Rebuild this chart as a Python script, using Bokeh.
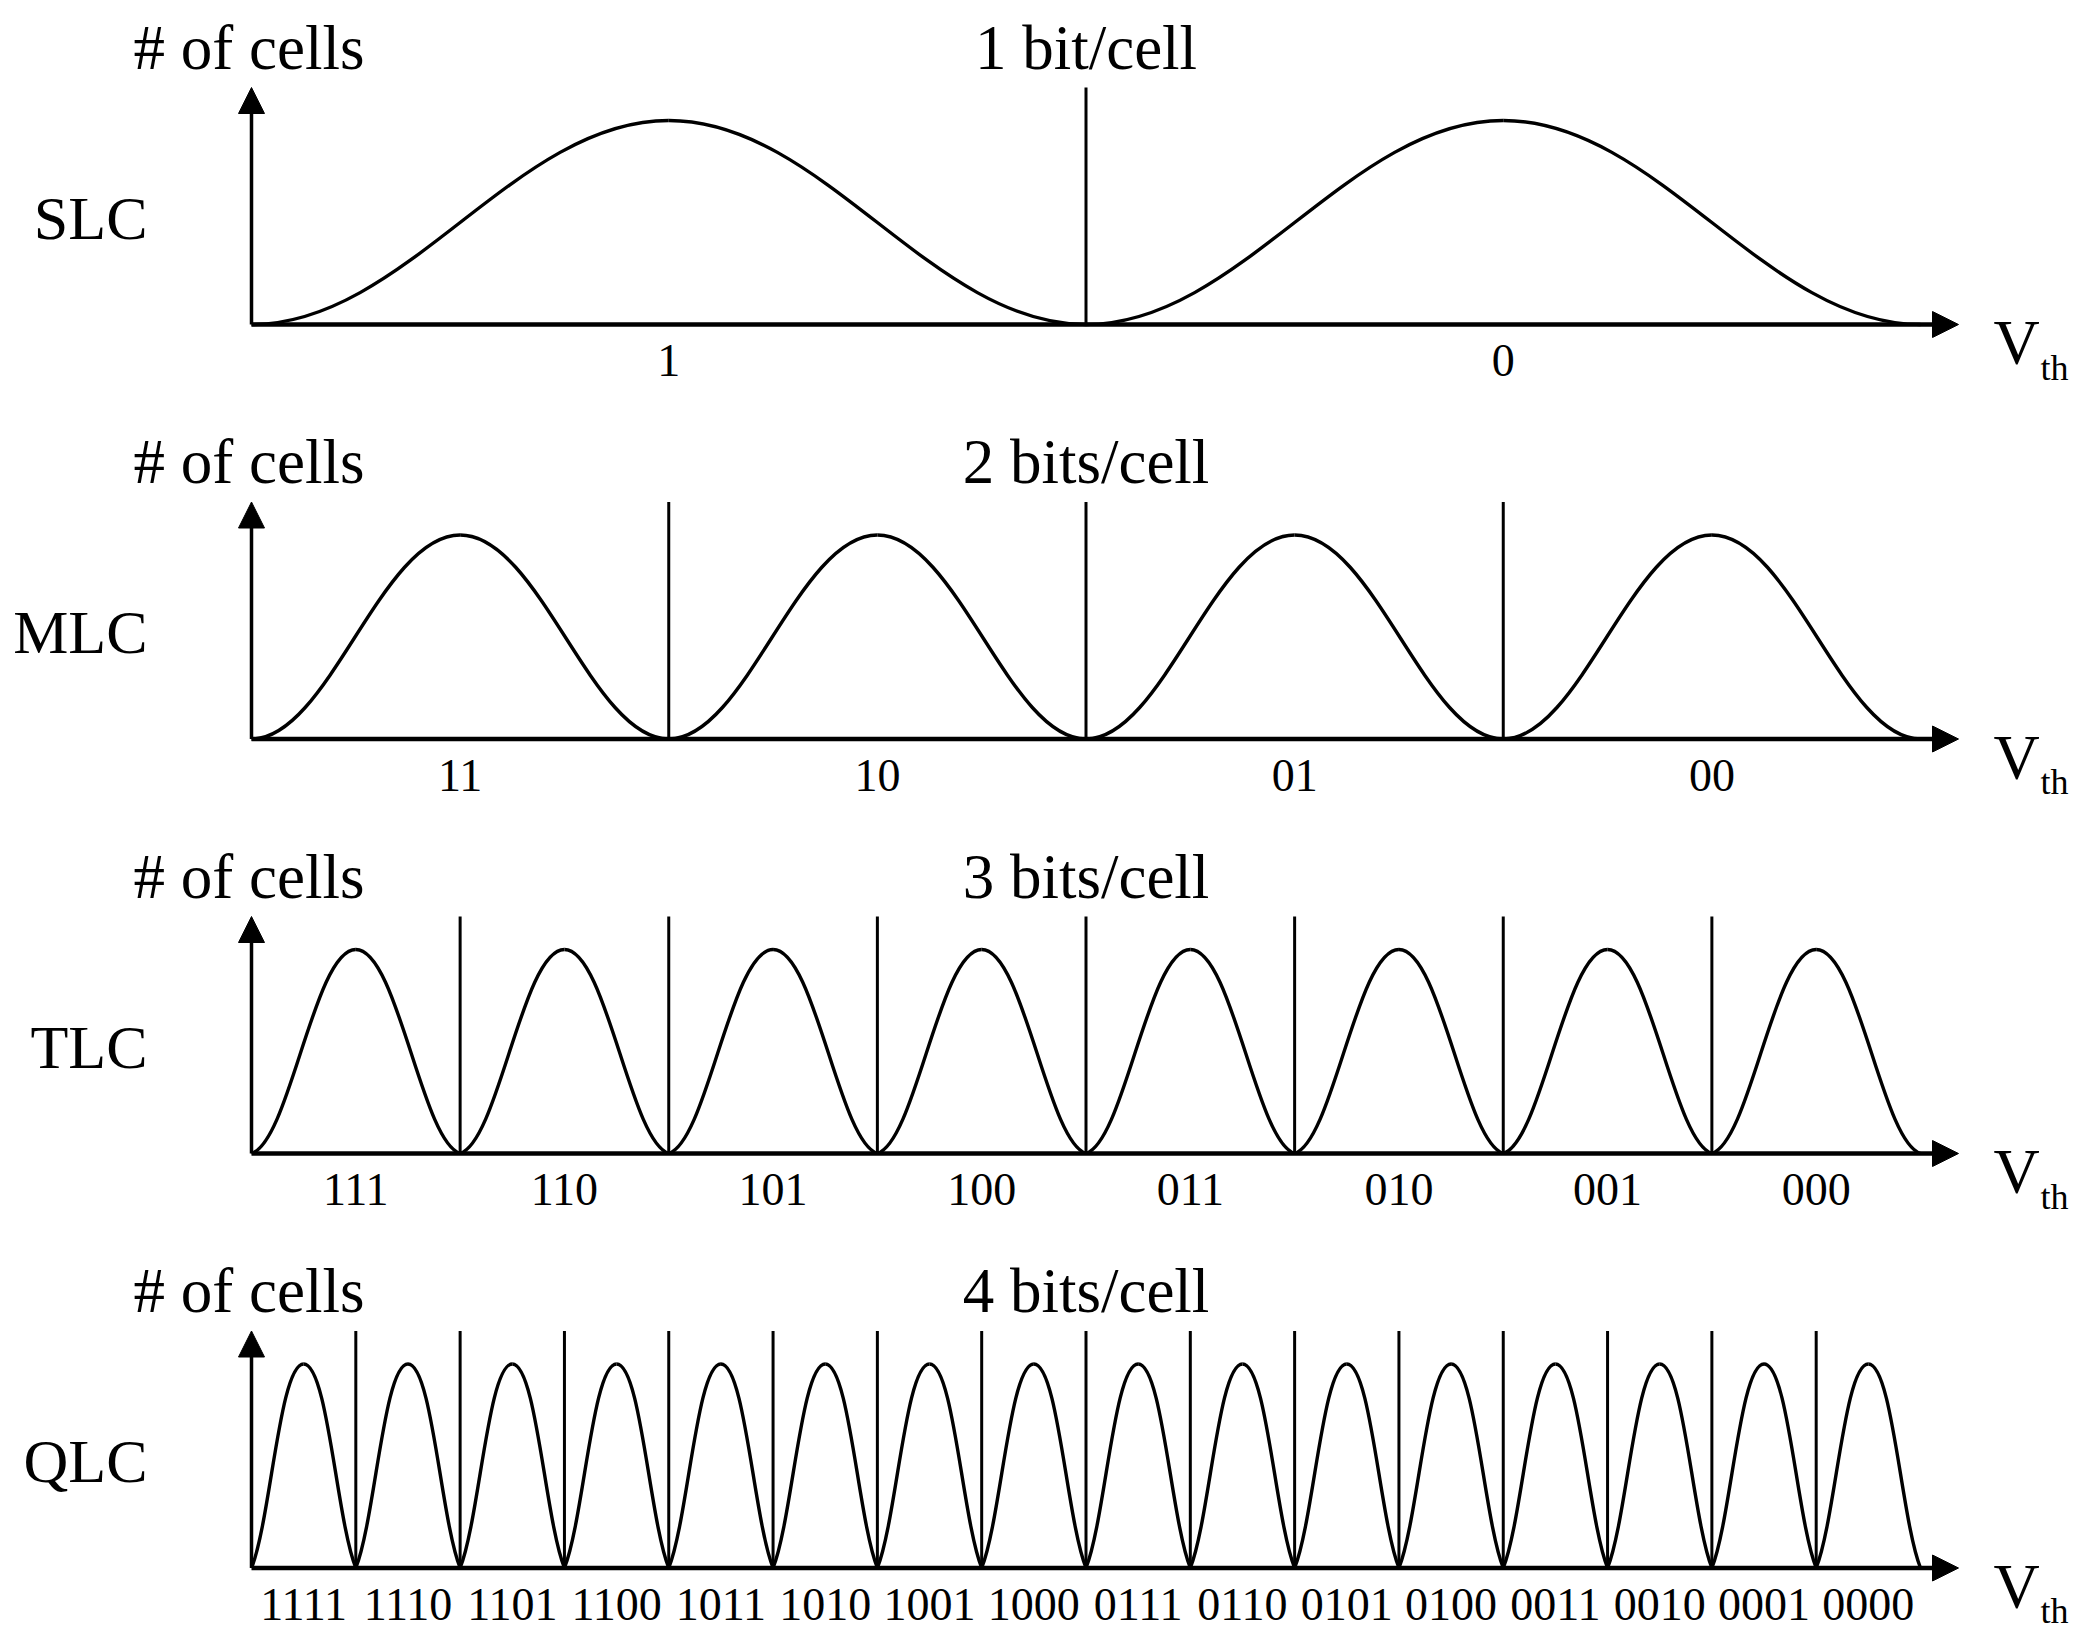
import numpy as np
from bokeh.plotting import figure
from bokeh.models import Range1d, Arrow, NormalHead, ColumnDataSource
from bokeh.core.properties import value
from bokeh.embed import file_html
from bokeh.resources import INLINE

# ---------------- data ----------------
row_names = ["SLC", "MLC", "TLC", "QLC"]
titles = ["1 bit/cell", "2 bits/cell", "3 bits/cell", "4 bits/cell"]
slc_states = ["1", "0"]
mlc_states = ["11", "10", "01", "00"]
tlc_states = ["111", "110", "101", "100", "011", "010", "001", "000"]
qlc_states = ["1111", "1110", "1101", "1100", "1011", "1010", "1001", "1000",
              "0111", "0110", "0101", "0100", "0011", "0010", "0001", "0000"]
state_lists = [slc_states, mlc_states, tlc_states, qlc_states]
peak_counts = [1.0, 1.0, 1.0, 1.0]      # relative # of cells at each distribution peak
y_label = "# of cells"
x_label_main = "V"
x_label_sub = "th"

# ---------------- layout / style ----------------
W, H = 2075, 1634
X_PX = 1669.0          # px per unit of normalised Vth
Y_PX = 204.0           # px per unit of normalised cell count
ROW_GAP = 414.5 / Y_PX
AXIS_TOP = 237.0 / Y_PX
AXIS_END = 1707.0 / X_PX
edge_lift = [0.0, 0.0, 0.06, 0.24]     # curve steepness at the base, per row (drawing style)
top_handle = [0.37, 0.38, 0.40, 0.46]  # roundness of the peak, per row (drawing style)
HX0 = 0.37
FONT = value("Liberation Serif")

p = figure(width=W, height=H, output_backend="svg", toolbar_location=None,
           x_range=Range1d(-251.0 / X_PX, 1824.0 / X_PX),
           y_range=Range1d(-1310.0 / Y_PX, 324.0 / Y_PX))
p.min_border = 0
p.outline_line_color = None
p.axis.visible = False
p.grid.visible = False
p.background_fill_color = "white"
p.border_fill_color = "white"

for i, states in enumerate(state_lists):
    base = -i * ROW_GAP
    n = len(states)
    h = peak_counts[i]
    e = edge_lift[i]
    hx1 = top_handle[i]
    k = np.arange(n)
    left = k / n
    right = (k + 1) / n
    ctr = (k + 0.5) / n
    hw = 0.5 / n
    b = np.full(n, base)
    t = np.full(n, base + h)
    # rising halves
    p.bezier(x0=left, y0=b, x1=ctr, y1=t,
             cx0=left + HX0 * hw, cy0=b + e * h,
             cx1=ctr - hx1 * hw, cy1=t,
             line_color="black", line_width=3.4)
    # falling halves
    p.bezier(x0=ctr, y0=t, x1=right, y1=b,
             cx0=ctr + hx1 * hw, cy0=t,
             cx1=right - HX0 * hw, cy1=b + e * h,
             line_color="black", line_width=3.4)
    # read reference dividers
    edges = np.arange(1, n) / n
    if len(edges):
        p.segment(x0=edges, y0=np.full(len(edges), base), x1=edges,
                  y1=np.full(len(edges), base + AXIS_TOP),
                  line_color="black", line_width=3)
    # axes with arrows
    p.add_layout(Arrow(x_start=0, y_start=base, x_end=AXIS_END, y_end=base,
                       line_color="black", line_width=4.5,
                       end=NormalHead(size=26, fill_color="black", line_color="black", line_width=1)))
    p.add_layout(Arrow(x_start=0, y_start=base, x_end=0, y_end=base + AXIS_TOP,
                       line_color="black", line_width=3.5,
                       end=NormalHead(size=26, fill_color="black", line_color="black", line_width=1)))
    # state labels
    src = ColumnDataSource(dict(x=ctr, y=np.full(n, base - 36.0 / Y_PX), t=states))
    p.text(x="x", y="y", text="t", source=src, text_font=FONT, text_font_size="46px",
           text_align="center", text_baseline="middle", text_color="black")
    # titles / labels
    p.text(x=[-118.0 / X_PX], y=[base + 277.0 / Y_PX], text=[y_label], text_font=FONT,
           text_font_size="63px", text_align="left", text_baseline="middle", text_color="black")
    p.text(x=[0.5], y=[base + 277.0 / Y_PX], text=[titles[i]], text_font=FONT,
           text_font_size="63px", text_align="center", text_baseline="middle", text_color="black")
    p.text(x=[-104.0 / X_PX], y=[base + 107.0 / Y_PX], text=[row_names[i]], text_font=FONT,
           text_font_size="62px", text_align="right", text_baseline="middle", text_color="black")
    p.text(x=[1742.0 / X_PX], y=[base - 18.0 / Y_PX], text=[x_label_main], text_font=FONT,
           text_font_size="64px", text_align="left", text_baseline="alphabetic", text_color="black")
    p.text(x=[1789.0 / X_PX], y=[base - 43.0 / Y_PX], text=[x_label_sub], text_font=FONT,
           text_font_size="36px", text_align="left", text_baseline="alphabetic", text_color="black")

open("out.html", "w").write(file_html(p, INLINE))
